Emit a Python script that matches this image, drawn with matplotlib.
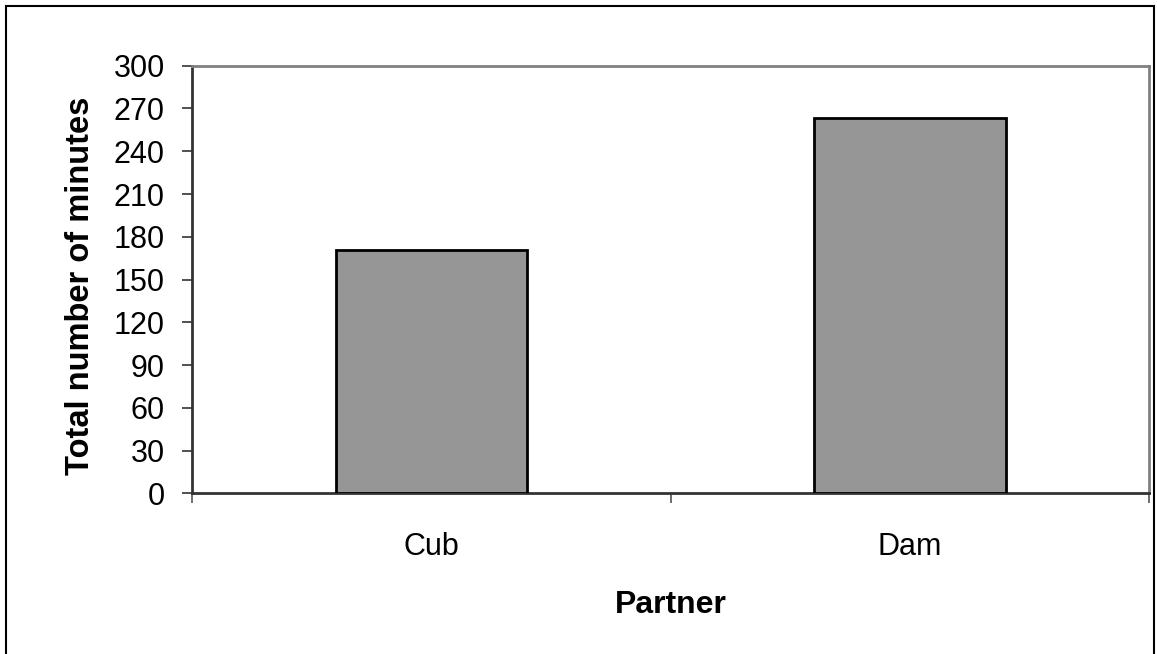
import numpy as np
import matplotlib.pyplot as plt
from matplotlib.patches import Rectangle

partners = ['Cub', 'Dam']
minutes = [171, 263]
yticks = list(range(0, 301, 30))

plt.rcParams['font.family'] = ['Liberation Sans', 'DejaVu Sans']

fig = plt.figure(figsize=(11.57, 6.54), dpi=100)
ax = fig.add_axes([0.166, 0.2457, 0.8275, 0.6538])

x = np.arange(len(partners))
ax.bar(x, minutes, width=0.4, color='#969696', edgecolor='black', linewidth=2, zorder=3)

ax.set_xlim(-0.5, len(partners) - 0.5)
ax.set_ylim(0, 300)
ax.set_yticks(yticks)
ax.tick_params(axis='y', labelsize=22, length=7.2, width=1.2, color='#333333', pad=12.5)

# category boundaries get tick marks, labels sit between them
ax.set_xticks(np.arange(len(partners) + 1) - 0.5)
ax.set_xticklabels([])
ax.tick_params(axis='x', length=7.2, width=1.2, color='#555555')
ax.set_xticks(x, minor=True)
ax.set_xticklabels(partners, minor=True)
ax.tick_params(axis='x', which='minor', length=0, pad=28, labelsize=22)

ax.spines['top'].set_color('#808080')
ax.spines['right'].set_color('#808080')
ax.spines['top'].set_linewidth(2)
ax.spines['right'].set_linewidth(2)
ax.spines['left'].set_color('#333333')
ax.spines['left'].set_linewidth(2)
ax.spines['bottom'].set_color('#333333')
ax.spines['bottom'].set_linewidth(2)

ax.set_ylabel('Total number of minutes', fontsize=23.5, fontweight='bold')
ax.set_xlabel('Partner', fontsize=23, fontweight='bold')
ax.yaxis.set_label_coords(-0.1, 0.485)
ax.xaxis.set_label_coords(0.5, -0.226)

# outer frame around the chart
fig.patches.append(Rectangle((6 / 1157, -0.05), 1148 / 1157, 1.05 - 6 / 654,
                             transform=fig.transFigure, fill=False,
                             edgecolor='black', linewidth=1.5))

fig.savefig('out.png', dpi=100)
